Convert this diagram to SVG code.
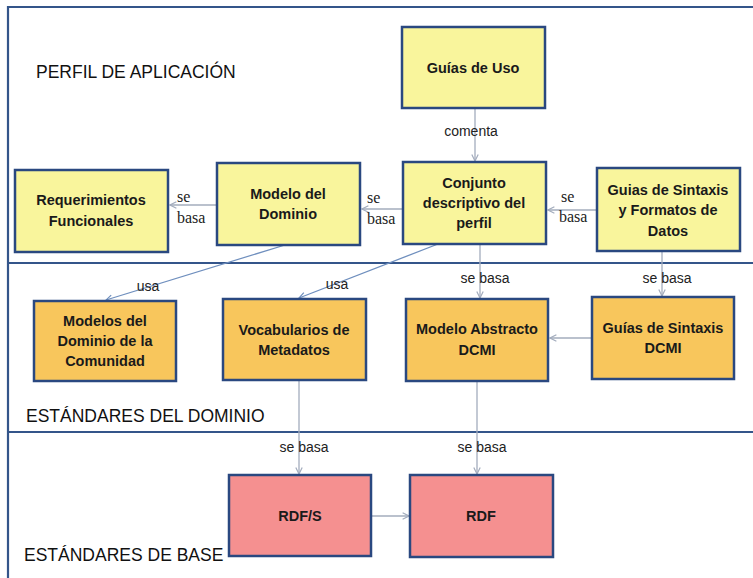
<svg xmlns="http://www.w3.org/2000/svg" width="753" height="578" viewBox="0 0 753 578">
<style>
.frame{fill:none;stroke:#34558a;stroke-width:2.2}
.box{stroke:#2a4880;stroke-width:2.5}
.y{fill:#f9f59c}
.o{fill:#f8c65c}
.p{fill:#f59090}
.t{font-family:"Liberation Sans",Arial,sans-serif;font-weight:bold;font-size:14.5px;fill:#1a1a1a;text-anchor:middle}
.sec{font-family:"Liberation Sans",Arial,sans-serif;font-size:17.5px;fill:#111}
.lbl{font-family:"Liberation Sans",Arial,sans-serif;font-size:14px;fill:#222;text-anchor:middle}
.slbl{font-family:"Liberation Serif","Times New Roman",serif;font-size:16px;fill:#222}
.c{fill:none;stroke:#a3acbd;stroke-width:1.3}
.u{fill:none;stroke:#6f8fbe;stroke-width:1.3}
</style>
<defs>
<marker id="a" viewBox="0 0 10 10" refX="9" refY="5" markerWidth="8" markerHeight="8" markerUnits="userSpaceOnUse" orient="auto">
<path d="M1,1 L9,5 L1,9" fill="none" stroke="#a3acbd" stroke-width="1.5"/>
</marker>
<marker id="b" viewBox="0 0 10 10" refX="9" refY="5" markerWidth="8" markerHeight="8" markerUnits="userSpaceOnUse" orient="auto">
<path d="M1,1 L9,5 L1,9" fill="none" stroke="#6f8fbe" stroke-width="1.5"/>
</marker>
</defs>
<rect width="753" height="578" fill="#ffffff"/>
<g id="frame">
<path class="frame" d="M8,578 V7 H753"/>
<line class="frame" x1="8" y1="263" x2="753" y2="263"/>
<line class="frame" x1="8" y1="432" x2="753" y2="432"/>
<text class="sec" x="36" y="78">PERFIL DE APLICACIÓN</text>
<text class="sec" x="26" y="422">ESTÁNDARES DEL DOMINIO</text>
<text class="sec" x="24" y="561">ESTÁNDARES DE BASE</text>
</g>
<g id="connectors">
<line class="c" x1="475" y1="108" x2="475" y2="161" marker-end="url(#a)"/>
<text class="lbl" x="471" y="136">comenta</text>
<line class="c" x1="403" y1="209" x2="362" y2="209" marker-end="url(#a)"/>
<text class="slbl" x="367" y="203">se</text>
<text class="slbl" x="367" y="224">basa</text>
<line class="c" x1="217" y1="205" x2="170" y2="205" marker-end="url(#a)"/>
<text class="slbl" x="177" y="202">se</text>
<text class="slbl" x="177" y="223">basa</text>
<line class="c" x1="597" y1="210" x2="548" y2="210" marker-end="url(#a)"/>
<text class="slbl" x="561" y="202">se</text>
<text class="slbl" x="559" y="222">basa</text>
<line class="u" x1="285" y1="245" x2="106" y2="300" marker-end="url(#b)"/>
<text class="lbl" x="148" y="291">usa</text>
<line class="u" x1="438" y1="244" x2="299" y2="298" marker-end="url(#b)"/>
<text class="lbl" x="337" y="289">usa</text>
<line class="c" x1="480" y1="244" x2="480" y2="298" marker-end="url(#a)"/>
<text class="lbl" x="485" y="283">se basa</text>
<line class="c" x1="662" y1="251" x2="662" y2="296" marker-end="url(#a)"/>
<text class="lbl" x="667" y="283">se basa</text>
<line class="c" x1="592" y1="338" x2="550" y2="338" marker-end="url(#a)"/>
<line class="c" x1="299" y1="380" x2="299" y2="474" marker-end="url(#a)"/>
<text class="lbl" x="304" y="452">se basa</text>
<line class="c" x1="477" y1="381" x2="477" y2="474" marker-end="url(#a)"/>
<text class="lbl" x="482" y="452">se basa</text>
<line class="c" x1="371" y1="516" x2="409" y2="516" marker-end="url(#a)"/>
</g>
<g id="guias-uso"><rect class="box y" x="402" y="27" width="143" height="81"/><text class="t" x="473" y="73">Guías de Uso</text></g>
<g id="conjunto"><rect class="box y" x="403" y="162" width="143" height="82"/><text class="t" x="474" y="188">Conjunto</text><text class="t" x="474" y="208">descriptivo del</text><text class="t" x="474" y="228">perfil</text></g>
<g id="guias-sintaxis-formatos"><rect class="box y" x="597" y="168" width="143" height="83"/><text class="t" x="668" y="195">Guias de Sintaxis</text><text class="t" x="668" y="215">y Formatos de</text><text class="t" x="668" y="236">Datos</text></g>
<g id="requerimientos"><rect class="box y" x="15" y="170" width="153" height="82"/><text class="t" x="91" y="205">Requerimientos</text><text class="t" x="91" y="226">Funcionales</text></g>
<g id="modelo-dominio"><rect class="box y" x="217" y="163" width="143" height="82"/><text class="t" x="288" y="199">Modelo del</text><text class="t" x="288" y="219">Dominio</text></g>
<g id="modelos-comunidad"><rect class="box o" x="34" y="301" width="142" height="80"/><text class="t" x="105" y="326">Modelos del</text><text class="t" x="105" y="346">Dominio de la</text><text class="t" x="105" y="366">Comunidad</text></g>
<g id="vocabularios"><rect class="box o" x="223" y="299" width="143" height="81"/><text class="t" x="294" y="335">Vocabularios de</text><text class="t" x="294" y="355">Metadatos</text></g>
<g id="modelo-abstracto"><rect class="box o" x="406" y="299" width="142" height="82"/><text class="t" x="477" y="334">Modelo Abstracto</text><text class="t" x="477" y="355">DCMI</text></g>
<g id="guias-sintaxis-dcmi"><rect class="box o" x="592" y="297" width="142" height="82"/><text class="t" x="663" y="333">Guías de Sintaxis</text><text class="t" x="663" y="353">DCMI</text></g>
<g id="rdfs"><rect class="box p" x="229" y="475" width="142" height="81"/><text class="t" x="300" y="521">RDF/S</text></g>
<g id="rdf"><rect class="box p" x="410" y="475" width="143" height="82"/><text class="t" x="481" y="521">RDF</text></g>
</svg>
